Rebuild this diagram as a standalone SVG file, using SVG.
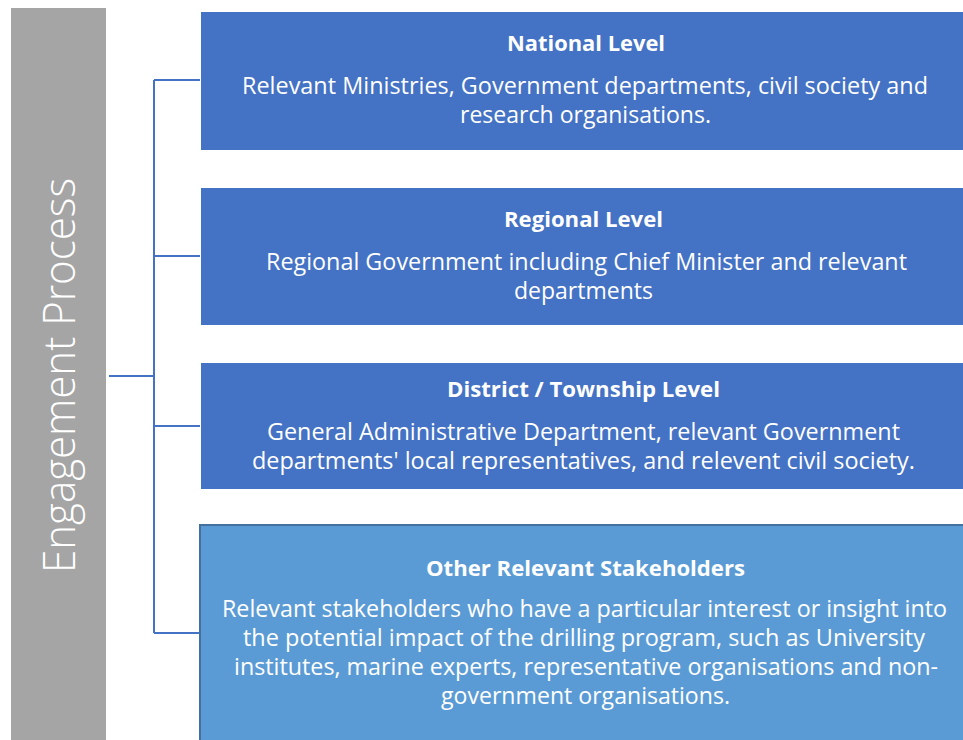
<svg xmlns="http://www.w3.org/2000/svg" width="963" height="740" viewBox="0 0 963 740">
<style>
.t{font-family:"Open Sans","Liberation Sans",sans-serif;font-weight:700;font-size:21px;fill:#ffffff;text-anchor:middle}
.b{font-family:"Open Sans","Liberation Sans",sans-serif;font-size:23px;fill:#ffffff;text-anchor:middle}
.dk{fill:#4472c4}
.lt{fill:#5b9bd5;stroke:#41719c;stroke-width:2}
.c{stroke:#4472c4;stroke-width:2;fill:none}
</style>
<rect width="963" height="740" fill="#ffffff"/>
<g id="engagement-process">
<rect x="11" y="8" width="95" height="732" fill="#a5a5a5"/>
<text transform="translate(75,375.5) rotate(-90)" font-family="'Open Sans','Liberation Sans',sans-serif" font-weight="300" font-size="45" fill="#ffffff" text-anchor="middle" textLength="395" lengthAdjust="spacingAndGlyphs">Engagement Process</text>
</g>
<g id="connectors">
<path class="c" d="M109 376H154M154 80V633M154 80H200M154 256H200M154 426H200M154 633H199"/>
</g>
<g id="national">
<rect class="dk" x="201" y="12" width="762" height="138"/>
<text class="t" x="586" y="51" textLength="158" lengthAdjust="spacingAndGlyphs">National Level</text>
<text class="b" x="585" y="94" textLength="686" lengthAdjust="spacingAndGlyphs">Relevant Ministries, Government departments, civil society and</text>
<text class="b" x="585.5" y="123" textLength="251" lengthAdjust="spacingAndGlyphs">research organisations.</text>
</g>
<g id="regional">
<rect class="dk" x="201" y="188" width="762" height="137"/>
<text class="t" x="583.5" y="227" textLength="159" lengthAdjust="spacingAndGlyphs">Regional Level</text>
<text class="b" x="586.5" y="270" textLength="641" lengthAdjust="spacingAndGlyphs">Regional Government including Chief Minister and relevant</text>
<text class="b" x="583.5" y="299" textLength="139" lengthAdjust="spacingAndGlyphs">departments</text>
</g>
<g id="district">
<rect class="dk" x="201" y="363" width="762" height="126"/>
<text class="t" x="583.5" y="397" textLength="273" lengthAdjust="spacingAndGlyphs">District / Township Level</text>
<text class="b" x="583.5" y="440" textLength="633" lengthAdjust="spacingAndGlyphs">General Administrative Department, relevant Government</text>
<text class="b" x="583.5" y="469" textLength="663" lengthAdjust="spacingAndGlyphs">departments' local representatives, and relevent civil society.</text>
</g>
<g id="other">
<rect class="lt" x="200" y="525" width="770" height="222"/>
<text class="t" x="585.5" y="576" textLength="319" lengthAdjust="spacingAndGlyphs">Other Relevant Stakeholders</text>
<text class="b" x="584.5" y="617" textLength="725" lengthAdjust="spacingAndGlyphs">Relevant stakeholders who have a particular interest or insight into</text>
<text class="b" x="584" y="646" textLength="682" lengthAdjust="spacingAndGlyphs">the potential impact of the drilling program, such as University</text>
<text class="b" x="586" y="675" textLength="704" lengthAdjust="spacingAndGlyphs">institutes, marine experts, representative organisations and non-</text>
<text class="b" x="585.5" y="704" textLength="289" lengthAdjust="spacingAndGlyphs">government organisations.</text>
</g>
</svg>
